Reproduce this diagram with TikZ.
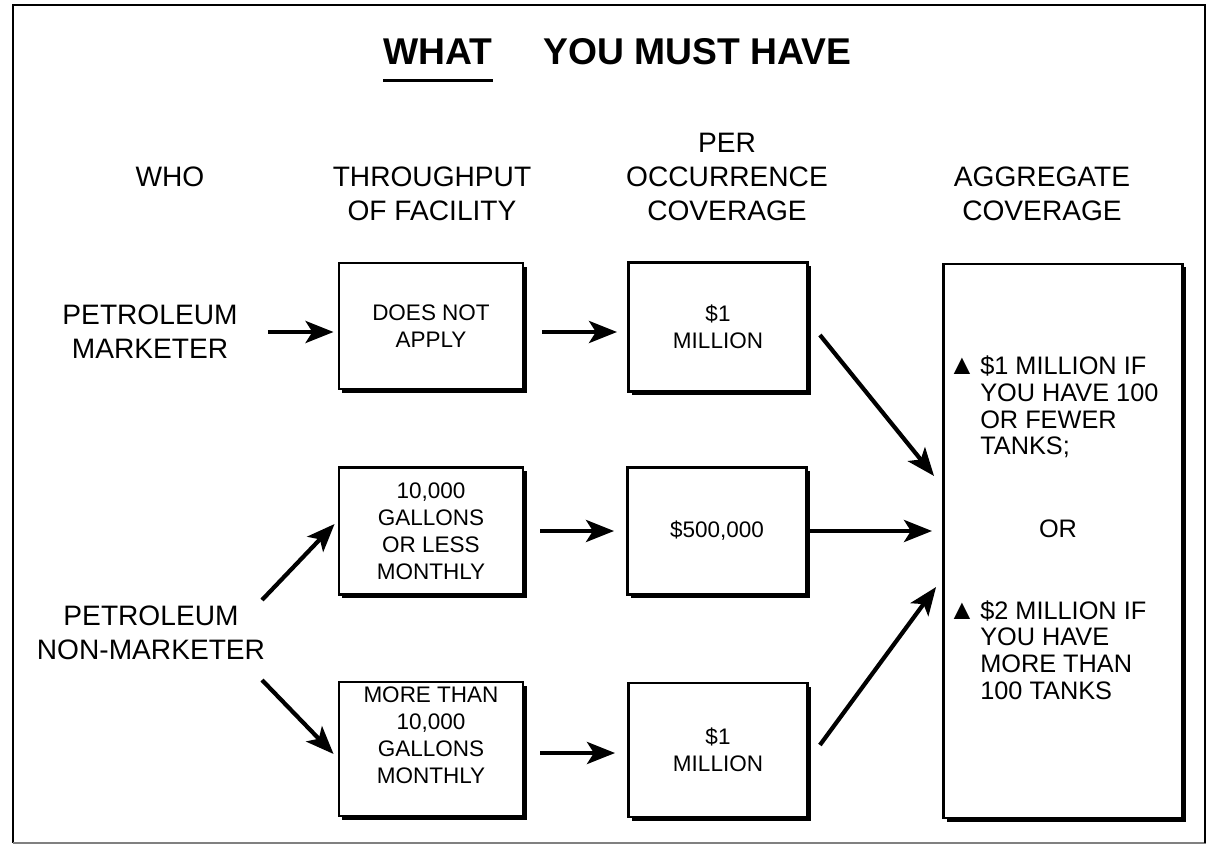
\documentclass[tikz,border=0pt]{standalone}
\usepackage{fontspec}
\setmainfont{Liberation Sans}
\usetikzlibrary{arrows.meta,shadows}

\newcommand{\tri}{{\fontsize{20}{20}\selectfont ▲}}

\begin{document}
\begin{tikzpicture}[x=0.025cm, y=-0.025cm,
		hdr/.style={align=center, inner sep=0pt, font=\fontsize{20}{24.2}\selectfont},
		box/.style={draw, line width=2pt, fill=white, align=center, inner sep=0pt,
			font=\fontsize{16}{19.2}\selectfont,
			drop shadow={shadow xshift=2.5pt, shadow yshift=-2.5pt, fill=black, opacity=1}},
		agtxt/.style={align=left, inner sep=0pt, font=\fontsize{18}{19}\selectfont},
		arr/.style={line width=3pt, -{Stealth[length=0.7cm, width=0.55cm, inset=0.17cm]}}]
		\useasboundingbox (0,0) rectangle (1206,849);
		
		% Frame
		\draw[line width=2pt] (1206,5) -- (13,5) -- (13,843);
		\draw[gray, line width=1.2pt] (13,843) -- (1206,843);
		\draw[line width=1.2pt] (1205,5) -- (1205,843);
		
		% Title
		\node[anchor=west, inner sep=0pt, font=\fontsize{26.5}{30}\selectfont\bfseries] (what) at (383,52) {WHAT};
		\node[anchor=west, inner sep=0pt, font=\fontsize{26.5}{30}\selectfont\bfseries] (must) at (543,52) {YOU MUST HAVE};
		\draw[line width=2.2pt] ([shift={(0,15)}]what.south west) -- ([shift={(0,15)}]what.south east);
		
		% Column heads
		\node[hdr] (who) at (170,177) {WHO};
		\node[hdr] (thru) at (432,194) {THROUGHPUT\\OF FACILITY};
		\node[hdr] (per) at (727,177) {PER\\OCCURRENCE\\COVERAGE};
		\node[hdr] (aggr) at (1042,194) {AGGREGATE\\COVERAGE};
		
		% Who
		\node[hdr] (pm) at (150,332) {PETROLEUM\\MARKETER};
		\node[hdr] (nm) at (151,633) {PETROLEUM\\NON-MARKETER};
		
		% Boxes
		\node[box, minimum width=4.6cm, minimum height=3.15cm] (na) at (431,326) {DOES NOT\\APPLY};
		\node[box, minimum width=4.6cm, minimum height=3.175cm] (low) at (431,531) {10,000\\GALLONS\\OR LESS\\MONTHLY};
		\node[box, minimum width=4.6cm, minimum height=3.35cm, text depth=0.7cm] (high) at (431,749) {MORE THAN\\10,000\\GALLONS\\MONTHLY};
		\node[box, minimum width=4.475cm, minimum height=3.225cm] (occA) at (718,327) {\$1\\MILLION};
		\node[box, minimum width=4.475cm, minimum height=3.175cm] (occB) at (717,531) {\$500,000};
		\node[box, minimum width=4.475cm, minimum height=3.35cm] (occC) at (718,750) {\$1\\MILLION};
		\node[box, minimum width=5.975cm, minimum height=13.85cm] (agg) at (1063,541) {};
		
		\node[agtxt, anchor=west] (few) at (980,407) {\llap{\tri\hspace{3pt}}\$1 MILLION IF\\YOU HAVE 100\\OR FEWER\\TANKS;};
		\node[agtxt] (or) at (1058,529) {OR};
		\node[agtxt, anchor=west] (more) at (980,650) {\llap{\tri\hspace{3pt}}\$2 MILLION IF\\YOU HAVE\\MORE THAN\\100 TANKS};
		
		% Arrows
		\draw[arr, shorten <=0.75cm, shorten >=0.1cm] (pm.east) -- (pm.east -| na.west);
		\draw[arr, shorten <=0.45cm, shorten >=0.25cm] ([shift={(0,6)}]na.east) -- ([shift={(0,6)}]na.east -| occA.west);
		\draw[arr] ([shift={(11,8)}]occA.east) -- ([shift={(-8,-65)}]agg.west);
		\draw[arr] ([shift={(111,-33)}]nm.center) -- ([shift={(-3,-7)}]low.west);
		\draw[arr] ([shift={(111,47)}]nm.center) -- ([shift={(-4,5)}]high.west);
		\draw[arr, shorten <=0.4cm, shorten >=0.3cm] (low.east) -- (low.east -| occB.west);
		\draw[arr, shorten >=0.25cm] (occB.east) -- (occB.east -| agg.west);
		\draw[arr, shorten <=0.4cm, shorten >=0.3cm] ([shift={(0,4)}]high.east) -- ([shift={(0,4)}]high.east -| occC.west);
		\draw[arr] ([shift={(11,-5)}]occC.east) -- ([shift={(-6,46)}]agg.west);
	\end{tikzpicture}
\end{document}
